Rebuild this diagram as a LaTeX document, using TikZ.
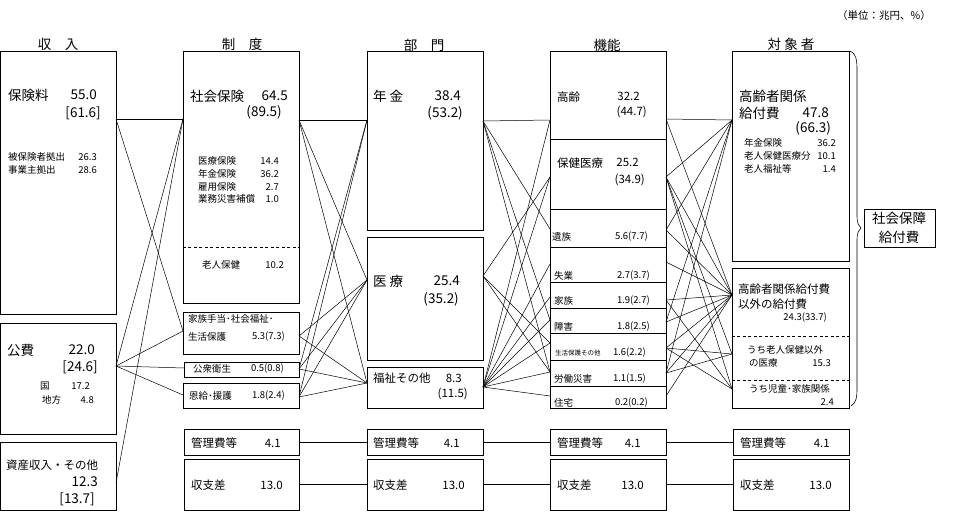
\documentclass[tikz,border=0pt]{standalone}
\usepackage{fontspec}
\setmainfont{Noto Sans CJK JP}
\usetikzlibrary{fit}
\begin{document}
\begin{tikzpicture}[x=1pt,y=-1pt,
  bx/.style={draw, line width=0.8pt, inner sep=0pt},
  cn/.style={line width=0.5pt},
  dv/.style={line width=0.8pt},
  dsh/.style={line width=0.6pt, dash pattern=on 3pt off 2.5pt},
  L/.style={inner sep=0pt, anchor=west, font=\fontsize{13.5}{15}\selectfont},
  M/.style={inner sep=0pt, anchor=west, font=\fontsize{11.5}{13}\selectfont},
  S/.style={inner sep=0pt, anchor=west, font=\fontsize{9.5}{11}\selectfont},
  T/.style={inner sep=0pt, anchor=west, font=\fontsize{6.5}{8}\selectfont},
  H/.style={inner sep=0pt, anchor=center, font=\fontsize{13.5}{15}\selectfont}]
\useasboundingbox (0,0) rectangle (976,511);
% ---------- headers
\node[H] (h1) at (58,44) {収　入};
\node[H] (h2) at (242,44) {制　度};
\node[H] (h3) at (424,45) {部　門};
\node[H] (h4) at (607,45) {機能};
\node[H] (h5) at (791,44) {対 象 者};
\node[inner sep=0pt, font=\fontsize{10.5}{12}\selectfont] (unit) at (884,16) {（単位：兆円、\%）};
% ---------- column 1 boxes
\node[bx, fit={(0.5,51) (116,314)}] (R1) {};
\node[bx, fit={(0.5,323) (116,434)}] (R2) {};
\node[bx, fit={(0.5,442) (116,510)}] (R3) {};
% ---------- column 2 boxes
\node[bx, fit={(183,51) (299,303)}] (S1) {};
\node[bx, fit={(183,312) (299,354)}] (S2) {};
\node[bx, fit={(184,362) (299,377)}] (S3) {};
\node[bx, fit={(183,383) (299,408)}] (S4) {};
\node[bx, fit={(184,429) (299,455)}] (S5) {};
\node[bx, fit={(184,459) (299,510)}] (S6) {};
\draw[dsh] (S1.west |- 0,247) -- (S1.east |- 0,247);
% ---------- column 3 boxes
\node[bx, fit={(367,51) (483,230)}] (B1) {};
\node[bx, fit={(367,237) (483,360)}] (B2) {};
\node[bx, fit={(367,367) (483,408)}] (B3) {};
\node[bx, fit={(367,429) (483,455)}] (B4) {};
\node[bx, fit={(367,459) (483,510)}] (B5) {};
% ---------- column 4 boxes
\node[bx, fit={(550,51) (666,408)}] (K) {};
\node[bx, fit={(550,429) (666,455)}] (K10) {};
\node[bx, fit={(550,459) (666,510)}] (K11) {};
\foreach \yy in {139,209,247,282,308,333,360,386}
  \draw[dv] (K.west |- 0,\yy) -- (K.east |- 0,\yy);
% ---------- column 5 boxes
\node[bx, fit={(732,51) (849,261)}] (T1) {};
\node[bx, fit={(732,268) (849,408)}] (T2) {};
\node[bx, fit={(733,429) (849,455)}] (T3) {};
\node[bx, fit={(733,459) (849,510)}] (T4) {};
\draw[dsh] (T2.west |- 0,336) -- (T2.east |- 0,336);
\draw[dsh] (T2.west |- 0,380) -- (T2.east |- 0,380);
\node[bx, fit={(864,209) (935,247)}] (SB) {};
% brace
\draw[line width=0.6pt] (850,51) .. controls (856,53) and (857,60) .. (857,70)
  -- (857,216) .. controls (857,224) and (859,226) .. (861,228)
  .. controls (859,230) and (857,232) .. (857,240)
  -- (857,388) .. controls (857,398) and (856,403) .. (851,406);
% ---------- texts column 1
\node[L] (t101) at (8,95) {保険料};
\node[L, anchor=east] (t102) at (97,95) {55.0};
\node[L, anchor=east] (t103) at (101,113) {[61.6]};
\node[S] (t104) at (8,157) {被保険者拠出};
\node[S, anchor=east] (t105) at (97,157) {26.3};
\node[S] (t106) at (8,170) {事業主拠出};
\node[S, anchor=east] (t107) at (97,170) {28.6};
\node[L] (t108) at (7,350) {公費};
\node[L, anchor=east] (t109) at (95,350) {22.0};
\node[L, anchor=east] (t110) at (98,367) {[24.6]};
\node[S] (t111) at (40,386) {国};
\node[S, anchor=east] (t112) at (90,386) {17.2};
\node[S] (t113) at (42,400) {地方};
\node[S, anchor=east] (t114) at (94,400) {4.8};
\node[M] (t115) at (6,465) {資産収入・その他};
\node[L, anchor=east] (t116) at (98,482) {12.3};
\node[L, anchor=east] (t117) at (95,499) {[13.7]};
% ---------- texts column 2
\node[L] (t201) at (190,96) {社会保険};
\node[L, anchor=east] (t202) at (288,96) {64.5};
\node[L, anchor=east] (t203) at (282,112) {(89.5)};
\node[S] (t204) at (198,161) {医療保険};
\node[S, anchor=east] (t205) at (279,161) {14.4};
\node[S] (t206) at (198,174) {年金保険};
\node[S, anchor=east] (t207) at (279,174) {36.2};
\node[S] (t208) at (198,187) {雇用保険};
\node[S, anchor=east] (t209) at (279,187) {2.7};
\node[S] (t210) at (198,199) {業務災害補償};
\node[S, anchor=east] (t211) at (279,199) {1.0};
\node[S] (t212) at (202,265) {老人保健};
\node[S, anchor=east] (t213) at (284,265) {10.2};
\node[S] (t214) at (188,319) {家族手当･社会福祉･};
\node[S] (t215) at (188,337) {生活保護};
\node[S, anchor=east] (t216) at (285,337) {5.3(7.3)};
\node[S] (t217) at (193,369) {公衆衛生};
\node[S, anchor=east] (t218) at (284,369) {0.5(0.8)};
\node[S] (t219) at (189,396) {恩給･援護};
\node[S, anchor=east] (t220) at (285,396) {1.8(2.4)};
\node[M] (t221) at (191,443) {管理費等};
\node[M, anchor=east] (t222) at (281,443) {4.1};
\node[M] (t223) at (191,485) {収支差};
\node[M, anchor=east] (t224) at (283,485) {13.0};
% ---------- texts column 3
\node[L] (t301) at (373,96) {年 金};
\node[L, anchor=east] (t302) at (461,96) {38.4};
\node[L, anchor=east] (t303) at (463,113) {(53.2)};
\node[L] (t304) at (373,281) {医 療};
\node[L, anchor=east] (t305) at (460,281) {25.4};
\node[L, anchor=east] (t306) at (459,299) {(35.2)};
\node[M] (t307) at (373,378) {福祉その他};
\node[M, anchor=east] (t308) at (462,378) {8.3};
\node[M, anchor=east] (t309) at (468,394) {(11.5)};
\node[M] (t310) at (373,443) {管理費等};
\node[M, anchor=east] (t311) at (460,443) {4.1};
\node[M] (t312) at (373,485) {収支差};
\node[M, anchor=east] (t313) at (465,485) {13.0};
% ---------- texts column 4
\node[M] (t401) at (557,97) {高齢};
\node[M, anchor=east] (t402) at (640,96) {32.2};
\node[M, anchor=east] (t403) at (647,112) {(44.7)};
\node[M] (t404) at (557,163) {保健医療};
\node[M, anchor=east] (t405) at (639,162) {25.2};
\node[M, anchor=east] (t406) at (645,180) {(34.9)};
\node[S] (t407) at (552,237) {遺族};
\node[S, anchor=east] (t408) at (648,237) {5.6(7.7)};
\node[S] (t409) at (554,276) {失業};
\node[S, anchor=east] (t410) at (650,276) {2.7(3.7)};
\node[S] (t411) at (554,301) {家族};
\node[S, anchor=east] (t412) at (650,301) {1.9(2.7)};
\node[S] (t413) at (554,327) {障害};
\node[S, anchor=east] (t414) at (650,327) {1.8(2.5)};
\node[T] (t415) at (555,353) {生活保護その他};
\node[S, anchor=east] (t416) at (646,353) {1.6(2.2)};
\node[S] (t417) at (554,379) {労働災害};
\node[S, anchor=east] (t418) at (646,379) {1.1(1.5)};
\node[S] (t419) at (554,403) {住宅};
\node[S, anchor=east] (t420) at (648,403) {0.2(0.2)};
\node[M] (t421) at (557,443) {管理費等};
\node[M, anchor=east] (t422) at (641,443) {4.1};
\node[M] (t423) at (557,485) {収支差};
\node[M, anchor=east] (t424) at (644,485) {13.0};
% ---------- texts column 5
\node[L] (t501) at (739,96) {高齢者関係};
\node[L] (t502) at (739,113) {給付費};
\node[L, anchor=east] (t503) at (829,113) {47.8};
\node[L, anchor=east] (t504) at (831,128) {(66.3)};
\node[S] (t505) at (744,143) {年金保険};
\node[S, anchor=east] (t506) at (836,143) {36.2};
\node[S] (t507) at (744,156) {老人保健医療分};
\node[S, anchor=east] (t508) at (836,156) {10.1};
\node[S] (t509) at (744,169) {老人福祉等};
\node[S, anchor=east] (t510) at (836,169) {1.4};
\node[M] (t511) at (738,289) {高齢者関係給付費};
\node[M] (t512) at (738,304) {以外の給付費};
\node[S, anchor=east] (t513) at (827,318) {24.3(33.7)};
\node[S] (t514) at (747,350) {うち老人保健以外};
\node[S] (t515) at (749,363) {の医療};
\node[S, anchor=east] (t516) at (831,363) {15.3};
\node[S] (t517) at (749,389) {うち児童･家族関係};
\node[S, anchor=east] (t518) at (834,402) {2.4};
\node[M] (t519) at (740,443) {管理費等};
\node[M, anchor=east] (t520) at (830,443) {4.1};
\node[M] (t521) at (740,485) {収支差};
\node[M, anchor=east] (t522) at (832,485) {13.0};
\node[L, anchor=center] (t523) at (899,218) {社会保障};
\node[L, anchor=center] (t524) at (899,237) {給付費};
% ---------- ports
\coordinate (rR1) at (116,119);
\coordinate (rR2) at (116,366);
\coordinate (rR3) at (116,483);
\coordinate (sL1) at (183,119);
\coordinate (sL2) at (183,331);
\coordinate (sL3) at (184,368);
\coordinate (sL4) at (183,395);
\coordinate (sR1) at (299,120);
\coordinate (sR2) at (299,336);
\coordinate (sR3) at (299,369);
\coordinate (sR4) at (299,397);
\coordinate (bL1) at (367,120);
\coordinate (bL2) at (367,280);
\coordinate (bL3) at (367,383);
\coordinate (bR1) at (483,121);
\coordinate (bR2) at (483,276);
\coordinate (bR3) at (483,387);
\coordinate (kL1) at (550,120);
\coordinate (kL2) at (550,177);
\coordinate (kL3) at (550,229);
\coordinate (kL4) at (550,264);
\coordinate (kL5) at (550,297);
\coordinate (kL6) at (550,320);
\coordinate (kL7) at (550,343);
\coordinate (kL8) at (550,372);
\coordinate (kL9) at (550,396);
\coordinate (kR1) at (666,119);
\coordinate (kR2) at (666,177);
\coordinate (kR3) at (666,230);
\coordinate (kR4) at (666,262);
\coordinate (kR5) at (666,300);
\coordinate (kR6) at (666,322);
\coordinate (kR7) at (666,348);
\coordinate (kR8) at (666,373);
\coordinate (kR9) at (666,396);
\coordinate (tL1) at (732,120);
\coordinate (tL2) at (732,295);
\coordinate (tL3) at (732,354);
\coordinate (tL4) at (732,389);
% ---------- connectors income -> system
\draw[cn] (rR1) -- (sL1);
\draw[cn] (rR1) -- (sL2);
\draw[cn] (rR2) -- (sL1);
\draw[cn] (rR2) -- (sL2);
\draw[cn] (rR2) -- (sL3);
\draw[cn] (rR2) -- (sL4);
\draw[cn] (rR3) -- (sL1);
% system -> sector
\draw[cn] (sR1) -- (bL1);
\draw[cn] (sR1) -- (bL2);
\draw[cn] (sR1) -- (bL3);
\draw[cn] (sR2) -- (bL2);
\draw[cn] (sR2) -- (bL3);
\draw[cn] (sR3) -- (bL1);
\draw[cn] (sR3) -- (bL2);
\draw[cn] (sR3) -- (bL3);
\draw[cn] (sR4) -- (bL1);
\draw[cn] (sR4) -- (bL2);
\draw[cn] (sR4) -- (bL3);
% sector -> function
\foreach \k in {1,3,6,8} \draw[cn] (bR1) -- (kL\k);
\foreach \k in {2,7,8} \draw[cn] (bR2) -- (kL\k);
\foreach \k in {1,2,4,5,6,7,8,9} \draw[cn] (bR3) -- (kL\k);
% function -> target
\foreach \t in {1,2} \draw[cn] (kR1) -- (tL\t);
\foreach \t in {1,2,3,4} \draw[cn] (kR2) -- (tL\t);
\foreach \t in {1,2} \draw[cn] (kR3) -- (tL\t);
\foreach \t in {2} \draw[cn] (kR4) -- (tL\t);
\foreach \t in {2,4} \draw[cn] (kR5) -- (tL\t);
\foreach \t in {1,2} \draw[cn] (kR6) -- (tL\t);
\foreach \t in {2,3,4} \draw[cn] (kR7) -- (tL\t);
\foreach \t in {1,2,3} \draw[cn] (kR8) -- (tL\t);
\foreach \t in {2} \draw[cn] (kR9) -- (tL\t);
% admin and balance
\draw[cn] (S5.east) -- (B4.west);
\draw[cn] (B4.east) -- (K10.west);
\draw[cn] (K10.east) -- (T3.west);
\draw[cn] (S6.east) -- (B5.west);
\draw[cn] (B5.east) -- (K11.west);
\draw[cn] (K11.east) -- (T4.west);
\end{tikzpicture}
\end{document}
